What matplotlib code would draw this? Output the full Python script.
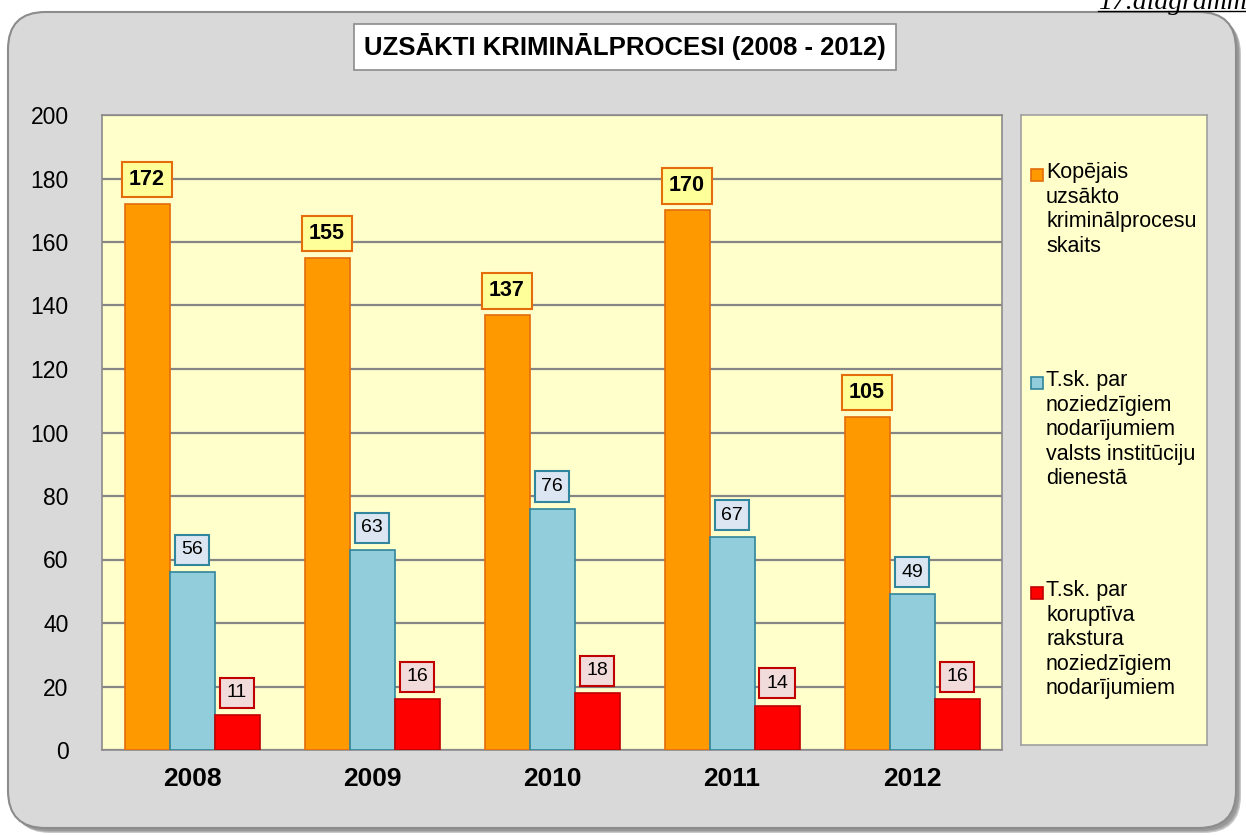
"""Grouped bar chart: criminal proceedings initiated 2008-2012."""
import numpy as np
import matplotlib.pyplot as plt
from matplotlib.patches import FancyBboxPatch, Rectangle
from matplotlib.lines import Line2D

plt.rcParams['font.family'] = ['Liberation Sans', 'DejaVu Sans']

years = ['2008', '2009', '2010', '2011', '2012']
total = [172, 155, 137, 170, 105]
state_service = [56, 63, 76, 67, 49]
corruption = [11, 16, 18, 14, 16]

labels = ['Kopējais\nuzsākto\nkriminālprocesu\nskaits',
          'T.sk. par\nnoziedzīgiem\nnodarījumiem\nvalsts institūciju\ndienestā',
          'T.sk. par\nkoruptīva\nrakstura\nnoziedzīgiem\nnodarījumiem']

W, H = 1246, 835
fig = plt.figure(figsize=(W / 100, H / 100), dpi=100)
fig.patch.set_facecolor('white')

def fx(px):
    return px / W

def fy(py):
    return 1 - py / H

# outer rounded panel with a soft shadow
for i, c in enumerate(['#c8c8c8', '#b0b0b0', '#989898']):
    off = 3 - i
    sh = FancyBboxPatch((fx(10 + off), fy(830 + off)), fx(1228), 816 / H,
                        boxstyle='round,pad=0,rounding_size=0.03', transform=fig.transFigure,
                        facecolor=c, edgecolor='none', zorder=-2, mutation_aspect=W / H)
    fig.patches.append(sh)
panel = FancyBboxPatch((fx(8), fy(828)), fx(1228), 816 / H,
                       boxstyle='round,pad=0,rounding_size=0.03', transform=fig.transFigure,
                       facecolor='#d9d9d9', edgecolor='#8c8c8c', linewidth=1.5, zorder=-1,
                       mutation_aspect=W / H)
fig.patches.append(panel)

ax = fig.add_axes([fx(102), fy(750), fx(900), 635 / H])
ax.set_facecolor('#ffffcc')

x = np.arange(len(years))
w = 0.25
series = [
    (total, '#ff9900', '#e46c0a', '#ffff99', '#e46c0a', 'bold'),
    (state_service, '#92cddc', '#31859c', '#dce6f2', '#31859c', 'normal'),
    (corruption, '#ff0000', '#c00000', '#f2dcdb', '#c00000', 'normal'),
]
for k, (vals, fc, ec, bfc, bec, fw) in enumerate(series):
    bars = ax.bar(x + (k - 1) * w, vals, w, color=fc, edgecolor=ec, linewidth=1.2,
                  label=labels[k], zorder=3)
    bold = fw == 'bold'
    for b, v in zip(bars, vals):
        ax.annotate(str(v), (b.get_x() + b.get_width() / 2, v),
                    xytext=(0, 17.5 if bold else 16), textcoords='offset points',
                    ha='center', va='center', fontsize=15.5 if bold else 14, fontweight=fw,
                    zorder=5,
                    bbox=dict(boxstyle='square,pad=0.34', facecolor=bfc, edgecolor=bec,
                              linewidth=1.5))

ax.set_xlim(-0.5, 4.5)
ax.set_ylim(0, 200)
ax.set_yticks(range(0, 201, 20))
ax.set_xticks(x)
ax.set_xticklabels(years, fontsize=19, fontweight='bold')
ax.tick_params(axis='y', length=0, pad=24, labelsize=16.5)
ax.tick_params(axis='x', length=0, pad=12)
ax.yaxis.grid(True, color='#868686', linewidth=1.6, zorder=1)
ax.set_axisbelow(True)
for s in ax.spines.values():
    s.set_color('#8c8c8c')
    s.set_linewidth(1.2)

# legend panel
lax = fig.add_axes([fx(1021), fy(745), fx(186), 630 / H])
lax.set_facecolor('#ffffcc')
lax.set_xlim(0, 186)
lax.set_ylim(630, 0)
lax.set_xticks([])
lax.set_yticks([])
for s in lax.spines.values():
    s.set_color('#a0a0a0')
    s.set_linewidth(1.2)
entry_y = [60, 268, 478]
for (vals, fc, ec, *_), lab, yy in zip(series, labels, entry_y):
    lax.add_patch(Rectangle((10, yy - 6), 12, 12, facecolor=fc, edgecolor=ec, linewidth=1.2))
    lax.text(25, yy - 13, lab, va='top', ha='left', fontsize=15.5, linespacing=1.22)

# title
fig.text(fx(625), fy(47), 'UZSĀKTI KRIMINĀLPROCESI (2008 - 2012)', ha='center', va='center',
         fontsize=18.5, fontweight='bold',
         bbox=dict(boxstyle='square,pad=0.38', facecolor='white', edgecolor='#8c8c8c', linewidth=1.2))

# page caption, clipped at top right
fig.text(fx(1098), fy(9), '17.diagramma', ha='left', va='baseline', fontsize=20,
         style='italic', family='Liberation Serif')
fig.add_artist(Line2D([fx(1098), 1.0], [fy(11), fy(11)], transform=fig.transFigure,
                      color='black', linewidth=1))

fig.savefig('out.png', dpi=100)
